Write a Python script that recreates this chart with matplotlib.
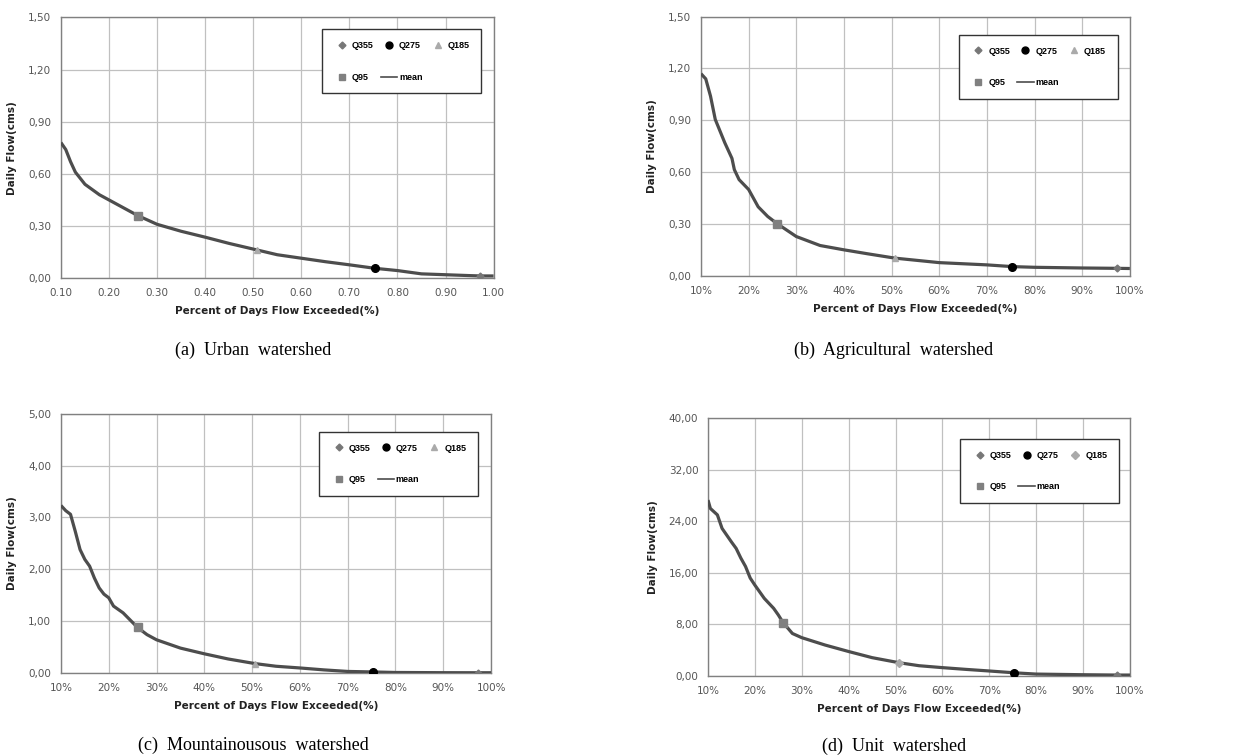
import matplotlib.pyplot as plt
from matplotlib.lines import Line2D
from matplotlib.ticker import FuncFormatter

# exceedance fractions (day / 365) and mean daily flow (cms)
urban_x = [0.10, 0.11, 0.12, 0.13, 0.15, 0.18, 0.20, 0.26, 0.30, 0.35, 0.40, 0.45,
           0.507, 0.55, 0.60, 0.65, 0.70, 0.753, 0.80, 0.85, 0.90, 0.95, 0.973, 1.00]
urban_q = [0.78, 0.74, 0.67, 0.61, 0.54, 0.48, 0.45, 0.36, 0.31, 0.27, 0.236, 0.20,
           0.163, 0.135, 0.115, 0.095, 0.077, 0.057, 0.044, 0.025, 0.02, 0.015, 0.013, 0.013]

agri_x = [0.10, 0.11, 0.12, 0.13, 0.15, 0.165, 0.17, 0.18, 0.20, 0.22, 0.24, 0.26,
          0.30, 0.35, 0.40, 0.45, 0.507, 0.60, 0.70, 0.753, 0.80, 0.90, 0.973, 1.00]
agri_q = [1.17, 1.14, 1.04, 0.905, 0.77, 0.68, 0.615, 0.557, 0.50, 0.40, 0.344, 0.302,
          0.228, 0.176, 0.151, 0.128, 0.103, 0.077, 0.064, 0.054, 0.05, 0.046, 0.044, 0.043]

mount_x = [0.10, 0.11, 0.12, 0.13, 0.14, 0.15, 0.16, 0.17, 0.18, 0.19, 0.20, 0.21,
           0.23, 0.26, 0.28, 0.30, 0.35, 0.40, 0.45, 0.507, 0.55, 0.60, 0.65, 0.70,
           0.753, 0.80, 0.90, 0.973, 1.00]
mount_q = [3.23, 3.13, 3.06, 2.73, 2.38, 2.19, 2.06, 1.83, 1.64, 1.52, 1.45, 1.29,
           1.16, 0.88, 0.74, 0.64, 0.48, 0.37, 0.27, 0.18, 0.13, 0.097, 0.06, 0.03,
           0.02, 0.01, 0.006, 0.005, 0.005]

unit_x = [0.10, 0.105, 0.12, 0.13, 0.15, 0.16, 0.17, 0.18, 0.19, 0.20, 0.22, 0.24,
          0.25, 0.26, 0.28, 0.30, 0.35, 0.40, 0.45, 0.507, 0.55, 0.60, 0.65, 0.70,
          0.753, 0.80, 0.90, 0.973, 1.00]
unit_q = [27.3, 26.0, 25.0, 22.9, 20.8, 19.8, 18.3, 17.0, 15.2, 14.1, 12.05, 10.5,
          9.47, 8.3, 6.6, 5.95, 4.8, 3.8, 2.85, 2.07, 1.6, 1.3, 1.03, 0.78,
          0.5, 0.3, 0.2, 0.15, 0.15]

# Q355, Q275, Q185, Q95 points
q_days = [355, 275, 185, 95]
urban_pts = [0.013, 0.057, 0.163, 0.36]
agri_pts = [0.044, 0.054, 0.103, 0.302]
mount_pts = [0.005, 0.02, 0.18, 0.88]
unit_pts = [0.15, 0.5, 2.07, 8.3]

captions = ["(a)  Urban  watershed", "(b)  Agricultural  watershed",
            "(c)  Mountainousous  watershed", "(d)  Unit  watershed"]
ymax = [1.5, 1.5, 5.0, 40.0]
ystep = [0.3, 0.3, 1.0, 8.0]

panels = [
    # axes rect, caption position, legend anchor
    ([0.0486, 0.632, 0.345, 0.345], (253, 350), (0.972, 0.954)),
    ([0.559, 0.635, 0.342, 0.343], (894, 350), (0.972, 0.930)),
    ([0.0486, 0.1098, 0.343, 0.343], (253, 745), (0.970, 0.930)),
    ([0.5646, 0.1058, 0.3365, 0.341], (894, 746), (0.974, 0.919)),
]

series = [(urban_x, urban_q, urban_pts), (agri_x, agri_q, agri_pts),
          (mount_x, mount_q, mount_pts), (unit_x, unit_q, unit_pts)]

fig = plt.figure(figsize=(12.54, 7.56), dpi=100)
W, H = 1254, 756
tick_color = "#555555"

for i, ((rect, cap, anchor), (xs, qs, pts)) in enumerate(zip(panels, series)):
    ax = fig.add_axes(rect)
    ax.plot(xs, qs, color="#4d4d4d", lw=2.3, solid_capstyle="butt", zorder=3)

    px = [d / 365 for d in q_days]
    q185_marker = "D" if i == 3 else "^"
    ax.plot(px[0], pts[0], "D", color="#777777", ms=3.5, zorder=4)
    ax.plot(px[1], pts[1], "o", color="black", ms=5.5, zorder=4)
    ax.plot(px[2], pts[2], q185_marker, color="#aaaaaa", ms=4.5, zorder=4)
    ax.plot(px[3], pts[3], "s", color="#808080", ms=5.5, zorder=4)

    ax.set_xlim(0.10, 1.00)
    ax.set_ylim(0, ymax[i])
    ax.set_xticks([0.1 * k for k in range(1, 11)])
    ax.set_yticks([ystep[i] * k for k in range(6)])
    if i == 0:
        ax.xaxis.set_major_formatter(FuncFormatter(lambda v, p: f"{v:.2f}"))
    else:
        ax.xaxis.set_major_formatter(FuncFormatter(lambda v, p: f"{v * 100:.0f}%"))
    ax.yaxis.set_major_formatter(FuncFormatter(lambda v, p: f"{v:.2f}".replace(".", ",")))
    ax.tick_params(length=0, labelsize=7.5, colors=tick_color, pad=7)
    ax.grid(True, color="#c0c0c0", lw=0.9)
    for s in ax.spines.values():
        s.set_color("#808080")
        s.set_linewidth(1.0)

    ax.set_xlabel("Percent of Days Flow Exceeded(%)", fontsize=7.5,
                  fontweight="bold", color="#222222", labelpad=6)
    ax.set_ylabel("Daily Flow(cms)", fontsize=7.5, fontweight="bold",
                  color="#222222", labelpad=8)

    # legend filled row by row: Q355 Q275 Q185 / Q95 mean
    h355 = Line2D([], [], marker="D", color="#777777", ls="none", ms=3.5)
    h275 = Line2D([], [], marker="o", color="black", ls="none", ms=5)
    h185 = Line2D([], [], marker=q185_marker, color="#aaaaaa", ls="none", ms=4.5)
    h95 = Line2D([], [], marker="s", color="#808080", ls="none", ms=5)
    hmean = Line2D([], [], color="#4d4d4d", lw=1.2)
    leg = ax.legend([h355, h95, h275, hmean, h185],
                    ["Q355", "Q95", "Q275", "mean", "Q185"],
                    ncol=3, loc="upper right", bbox_to_anchor=anchor,
                    fancybox=False, framealpha=1, edgecolor="#333333",
                    prop={"size": 6.5, "weight": "bold", "family": "Liberation Sans"},
                    handlelength=1.8, handletextpad=0.2, columnspacing=0.8,
                    labelspacing=2.5, borderpad=1.3, borderaxespad=0)
    leg.get_frame().set_linewidth(1.0)

    fig.text(cap[0] / W, 1 - cap[1] / H, captions[i], ha="center", va="center",
             fontsize=13, family="Liberation Serif")

fig.savefig("out.png", dpi=100)
